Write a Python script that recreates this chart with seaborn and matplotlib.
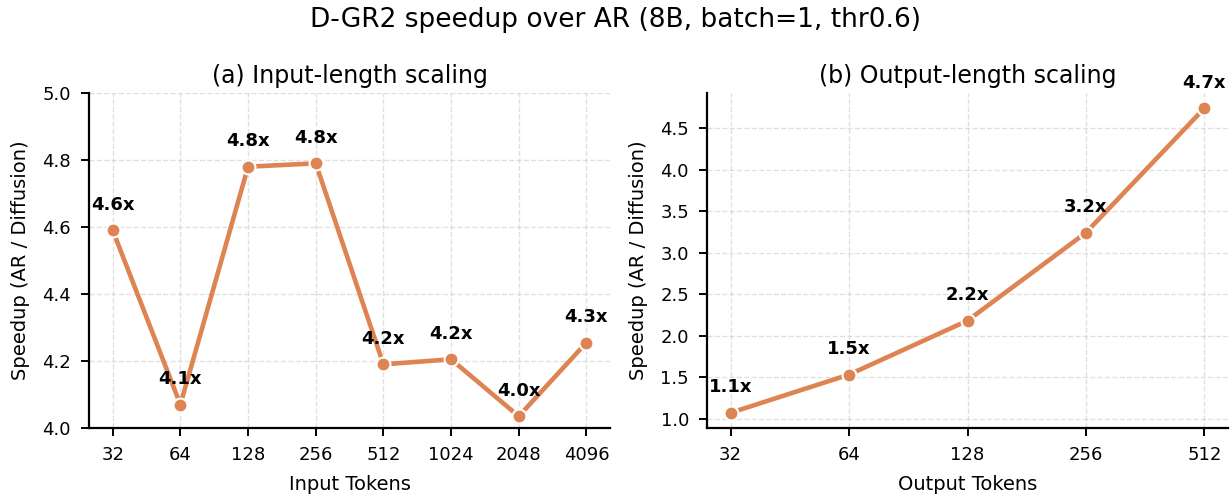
import numpy as np
import pandas as pd
import matplotlib
matplotlib.use('Agg')
import matplotlib.pyplot as plt
import seaborn as sns

# data
input_tokens = [32, 64, 128, 256, 512, 1024, 2048, 4096]
input_speedup = [4.59, 4.07, 4.78, 4.79, 4.19, 4.205, 4.035, 4.255]
output_tokens = [32, 64, 128, 256, 512]
output_speedup = [1.07, 1.53, 2.18, 3.24, 4.74]

COLOR = '#dd8452'

sns.set_theme(style='ticks', rc={
    'text.color': 'black',
    'axes.labelcolor': 'black',
    'axes.edgecolor': 'black',
    'xtick.color': 'black',
    'ytick.color': 'black',
    'axes.linewidth': 1.6,
    'xtick.major.width': 1.4,
    'ytick.major.width': 1.4,
    'xtick.major.size': 6,
    'ytick.major.size': 6,
    'xtick.major.pad': 7,
    'ytick.major.pad': 7,
})
plt.rcParams['font.family'] = ['DejaVu Sans']


def draw_panel(ax, tokens, speedup, title, xlabel):
    df = pd.DataFrame({'tokens': tokens, 'speedup': speedup})
    sns.lineplot(data=df, x='tokens', y='speedup', ax=ax, color=COLOR,
                 linewidth=3.3, marker='o', markersize=10,
                 markeredgecolor='white', markeredgewidth=1.5)
    ax.set_xscale('log', base=2)
    ax.set_xticks(tokens)
    ax.set_xticklabels([str(t) for t in tokens])
    ax.minorticks_off()
    for t, s in zip(tokens, speedup):
        ax.annotate(f'{s:.1f}x', (t, s), xytext=(0, 12), textcoords='offset points',
                    ha='center', va='bottom', fontsize=13, fontweight='bold')
    ax.set_title(title, fontsize=17, pad=7)
    ax.set_xlabel(xlabel, fontsize=14, labelpad=8)
    ax.set_ylabel('Speedup (AR / Diffusion)', fontsize=14, labelpad=9)
    ax.tick_params(labelsize=13)
    ax.grid(True, linestyle='--', color='#cccccc', alpha=0.6)
    sns.despine(ax=ax)


fig, axes = plt.subplots(1, 2, figsize=(12.3, 4.95), dpi=100)
draw_panel(axes[0], input_tokens, input_speedup, '(a) Input-length scaling', 'Input Tokens')
axes[0].set_ylim(4.0, 5.0)
draw_panel(axes[1], output_tokens, output_speedup, '(b) Output-length scaling', 'Output Tokens')

fig.suptitle('D-GR2 speedup over AR (8B, batch=1, thr0.6)', fontsize=19, y=0.985)
fig.subplots_adjust(left=0.0724, right=0.9984, bottom=0.1354, top=0.8121, wspace=0.186)
plt.savefig('out.png', dpi=100)
plt.close()
